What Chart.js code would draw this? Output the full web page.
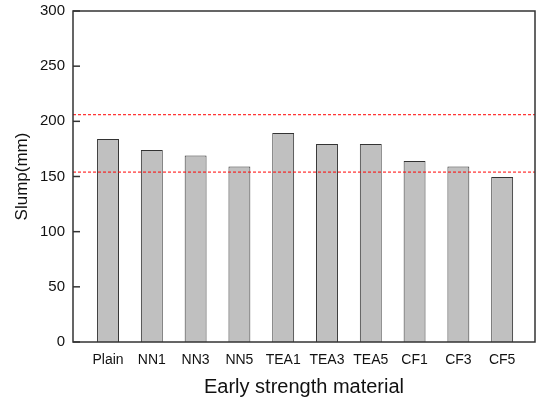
<!DOCTYPE html>
<html>
<head>
<meta charset="utf-8">
<script src="https://cdn.jsdelivr.net/npm/chart.js@4/dist/chart.umd.min.js"></script>
<style>
  html, body { margin: 0; padding: 0; background: #fff; }
  #wrap { width: 539px; height: 401px; }
</style>
</head>
<body>
<div id="wrap"><canvas id="slumpChart"></canvas></div>
<script>
// ============================================
// Data
// ============================================
const categories = ['Plain', 'NN1', 'NN3', 'NN5', 'TEA1', 'TEA3', 'TEA5', 'CF1', 'CF3', 'CF5'];
const slumpValues = [184, 174, 169, 159, 189.5, 179.5, 179.5, 164, 159, 149.5];
const yTicks = [0, 50, 100, 150, 200, 250, 300];
const refLines = [206, 154];

const X_MIN = -0.8;
const X_MAX = 9.75;
const FONT = '"Liberation Sans", Arial, sans-serif';

// frame and inward ticks
const framePlugin = {
    id: 'frame',
    afterDatasetsDraw(chart) {
        const { ctx, chartArea: a, scales } = chart;
        ctx.save();
        ctx.strokeStyle = '#333';
        ctx.lineWidth = 1.5;
        yTicks.forEach(v => {
            const y = scales.y.getPixelForValue(v);
            ctx.beginPath();
            ctx.moveTo(a.left, y);
            ctx.lineTo(a.left + 7, y);
            ctx.stroke();
        });
        ctx.strokeRect(a.left, a.top, a.right - a.left, a.bottom - a.top);
        ctx.restore();
    }
};

// red dotted reference lines as line datasets
const refDatasets = refLines.map(v => ({
    type: 'line',
    data: [{ x: X_MIN, y: v }, { x: X_MAX, y: v }],
    borderColor: '#ff0000',
    borderWidth: 1,
    borderDash: [3, 2],
    pointRadius: 0,
    fill: false,
    order: 0
}));

new Chart(document.getElementById('slumpChart'), {
    type: 'bar',
    data: {
        datasets: [{
            data: slumpValues.map((v, i) => ({ x: i, y: v })),
            backgroundColor: '#c0c0c0',
            borderColor: '#333',
            borderWidth: 1,
            categoryPercentage: 1,
            barPercentage: 0.5,
            order: 1
        }, ...refDatasets]
    },
    options: {
        responsive: true,
        maintainAspectRatio: false,
        animation: false,
        layout: { padding: { top: 11, right: 4, left: 0, bottom: 0 } },
        plugins: { legend: { display: false }, tooltip: { enabled: false } },
        scales: {
            x: {
                type: 'linear',
                min: X_MIN,
                max: X_MAX,
                offset: false,
                grid: { display: false, drawTicks: false },
                border: { display: false },
                afterBuildTicks: axis => { axis.ticks = categories.map((_, i) => ({ value: i })); },
                afterFit: axis => { axis.height = 59; axis.paddingLeft = 0; axis.paddingRight = 0; },
                ticks: {
                    autoSkip: false,
                    maxRotation: 0,
                    padding: 10,
                    color: '#111',
                    font: { family: FONT, size: 14 },
                    callback: v => categories[v]
                },
                title: {
                    display: true,
                    text: 'Early strength material',
                    color: '#111',
                    font: { family: FONT, size: 20 },
                    padding: { top: 4, bottom: 2 }
                }
            },
            y: {
                min: 0,
                max: 300,
                grid: { display: false, drawTicks: false },
                border: { display: false },
                afterBuildTicks: axis => { axis.ticks = yTicks.map(v => ({ value: v })); },
                afterFit: axis => { axis.width = 73; axis.paddingTop = 0; axis.paddingBottom = 0; },
                ticks: {
                    padding: 8,
                    color: '#111',
                    font: { family: FONT, size: 15 }
                },
                title: {
                    display: true,
                    text: 'Slump(mm)',
                    color: '#111',
                    font: { family: FONT, size: 17 },
                    padding: { top: 12, bottom: 0 }
                }
            }
        }
    },
    plugins: [framePlugin]
});
</script>
</body>
</html>
